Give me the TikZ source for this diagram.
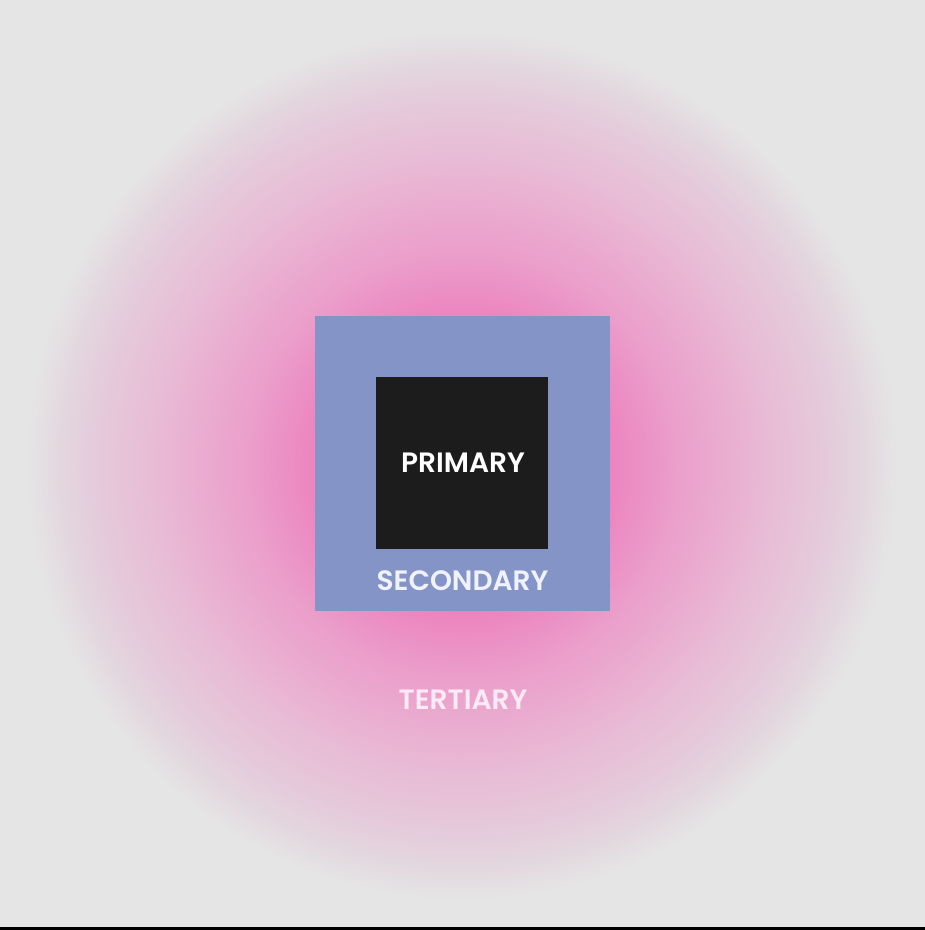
\documentclass[tikz,border=0pt]{standalone}
\usepackage{fontspec}
\setmainfont{Poppins}[BoldFont={Poppins SemiBold}]
\definecolor{bgc}{RGB}{229,229,229}
\definecolor{pinkA}{RGB}{236,128,190}
\definecolor{pinkB}{RGB}{235,158,202}
\definecolor{pinkC}{RGB}{234,172,208}
\definecolor{pinkD}{RGB}{232,188,214}
\definecolor{pinkE}{RGB}{229,201,218}
\definecolor{pinkF}{RGB}{227,214,222}
\definecolor{secblue}{RGB}{132,148,198}
\definecolor{primblack}{RGB}{28,28,28}
\definecolor{sectext}{RGB}{240,242,255}
\definecolor{tertext}{RGB}{252,234,246}
% the shading is fitted to a square of half side 870pt, so 25bp = 870pt; stops below are halved
\pgfdeclareradialshading{glow}{\pgfpointorigin}{color(0bp)=(pinkA); color(4bp)=(pinkA); color(6.1bp)=(pinkB); color(7.5bp)=(pinkC); color(8.95bp)=(pinkD); color(10.4bp)=(pinkE); color(11.5bp)=(pinkF); color(12.5bp)=(bgc); color(50bp)=(bgc)}
\tikzset{
  label text/.style={font=\fontsize{28}{30}\selectfont\bfseries, inner sep=0pt, anchor=center},
}
\begin{document}
\begin{tikzpicture}[x=1pt,y=-1pt]
\useasboundingbox (0,0) rectangle (925,930);
\begin{scope}
\clip (0,0) rectangle (925,930);
\fill[shading=glow] (462-870,465-870) rectangle (462+870,465+870);
\end{scope}
\fill[black] (0,927) rectangle (925,930);
\node[fill=secblue, minimum size=295pt, inner sep=0pt] (secbox) at (462.5,463.5) {};
\node[fill=primblack, minimum size=172pt, inner sep=0pt] (primbox) at (462,463) {};
\node[label text, text=white] (primary) at (463,463) {PRIMARY};
\node[label text, text=sectext] (secondary) at (462.5,581) {SECONDARY};
\node[label text, text=tertext] (tertiary) at (463,700) {TERTIARY};
\end{tikzpicture}
\end{document}
